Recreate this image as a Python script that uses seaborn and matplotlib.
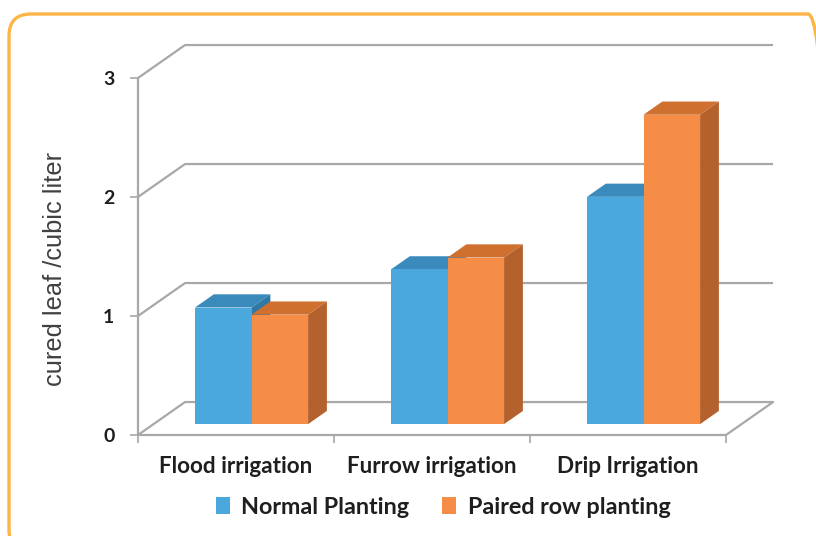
import matplotlib
matplotlib.use("Agg")
import numpy as np
import pandas as pd
import seaborn as sns
import matplotlib.pyplot as plt
from matplotlib.patches import Polygon, Patch, FancyBboxPatch
from matplotlib.transforms import Affine2D
from matplotlib.colors import to_rgb

# ---- data -------------------------------------------------------------
categories = ["Flood irrigation", "Furrow irrigation", "Drip Irrigation"]
series = ["Normal Planting", "Paired row planting"]
normal_planting = [0.98, 1.30, 1.91]
paired_row_planting = [0.92, 1.40, 2.60]
y_ticks = [0, 1, 2, 3]
y_title = "cured leaf /cubic liter"

df = pd.DataFrame({
    "irrigation": categories * 2,
    "planting": [series[0]] * len(categories) + [series[1]] * len(categories),
    "value": normal_planting + paired_row_planting,
})

# ---- style ------------------------------------------------------------
sns.set_theme(style="white")
plt.rcParams["font.family"] = ["Lato", "DejaVu Sans"]

front_col = {"Normal Planting": "#4BA8DC", "Paired row planting": "#F58D47"}
top_col = {"Normal Planting": "#3A8BBC", "Paired row planting": "#D0702F"}
side_col = {"Normal Planting": "#2F79A6", "Paired row planting": "#B5612D"}
grid_col = "#A8A8A8"
text_col = "#1E1E1E"

fig = plt.figure(figsize=(8.16, 5.36), dpi=100)
fig.patch.set_facecolor("white")

# rounded frame around the whole chart
frame = FancyBboxPatch((0.09, -0.16), 8.21, 5.38,
                       boxstyle="round,pad=0,rounding_size=0.22",
                       transform=fig.dpi_scale_trans, facecolor="none",
                       edgecolor="#FDB548", linewidth=2.4, zorder=0)
fig.add_artist(frame)

# front plane of the 3-D box
ax = fig.add_axes([138 / 816, 101 / 536, 588 / 816, 357 / 536])
ax.set_facecolor("none")

sns.barplot(data=df, x="irrigation", y="value", hue="planting",
            order=categories, hue_order=series, palette=front_col,
            width=0.577, saturation=1, errorbar=None, legend=False,
            linewidth=0, ax=ax)

ax.set_xlim(-0.5, 2.5)
ax.set_ylim(0, 3)

# depth of the box (data units) and the slab occupied by the bars
DX, DY = 0.24, 0.277
FRONT, BACK = 0.33, 0.73
fx, fy = DX * FRONT, DY * FRONT
bx, by = DX * BACK, DY * BACK

# back wall, left wall and floor lines
for t in y_ticks:
    ax.plot([-0.5, -0.5 + DX, 2.5 + DX], [t, t + DY, t + DY],
            color=grid_col, lw=1.6, clip_on=False, zorder=1,
            solid_capstyle="butt")
ax.plot([-0.5, 2.5, 2.5 + DX], [0, 0, DY], color=grid_col, lw=1.6,
        clip_on=False, zorder=1)
ax.plot([-0.5, -0.5], [0, 3], color=grid_col, lw=1.6, clip_on=False, zorder=1)


def series_of(patch):
    fc = np.array(patch.get_facecolor()[:3])
    return min(series, key=lambda s: np.abs(np.array(to_rgb(front_col[s])) - fc).sum())


bars = [p for p in ax.patches if p.get_height() > 0]
bars.sort(key=lambda p: p.get_x())
for rank, p in enumerate(bars):
    s = series_of(p)
    x0, w, h = p.get_x(), p.get_width(), p.get_height()
    z = 3 + rank * 0.1
    top = Polygon([(x0 + fx, h + fy), (x0 + w + fx, h + fy),
                   (x0 + w + bx, h + by), (x0 + bx, h + by)],
                  closed=True, facecolor=top_col[s], edgecolor="none",
                  clip_on=False, zorder=z)
    side = Polygon([(x0 + w + fx, fy), (x0 + w + bx, by),
                    (x0 + w + bx, h + by), (x0 + w + fx, h + fy)],
                   closed=True, facecolor=side_col[s], edgecolor="none",
                   clip_on=False, zorder=z)
    ax.add_patch(top)
    ax.add_patch(side)
    p.set_transform(Affine2D().translate(fx, fy) + ax.transData)
    p.set_clip_on(False)
    p.set_zorder(z + 0.05)

# axes cosmetics
for sp in ax.spines.values():
    sp.set_visible(False)
ax.set_xlabel("")
ax.set_ylabel("")
ax.set_yticks(y_ticks)
ax.set_yticklabels([str(t) for t in y_ticks], fontsize=14, fontweight="bold",
                   color=text_col)
ax.set_xticks(range(len(categories)))
ax.set_xticklabels(categories, fontsize=16.2, fontweight="bold", color=text_col)
ax.set_xticks(np.arange(-0.5, len(categories)), minor=True)
ax.tick_params(axis="y", left=True, length=6, width=1.2, color=grid_col, pad=11)
ax.tick_params(axis="x", which="major", bottom=True, length=0, pad=15)
ax.tick_params(axis="x", which="minor", bottom=True, length=6, width=1.2,
               color=grid_col)

fig.text(55 / 816, 1 - 269 / 536, y_title, rotation=90, ha="center",
         va="center", fontsize=18.3, color="#404040",
         family=["Liberation Sans", "DejaVu Sans"])

handles = [Patch(facecolor=front_col[s], edgecolor="none", label=s) for s in series]
fig.legend(handles=handles, loc="center", bbox_to_anchor=(443 / 816, 1 - 507 / 536),
           ncol=2, frameon=False, prop={"size": 16.8, "weight": "bold"},
           labelcolor=text_col, handlelength=0.6, handleheight=0.75,
           handletextpad=0.5, columnspacing=1.4)

fig.savefig("out.png", dpi=100)
